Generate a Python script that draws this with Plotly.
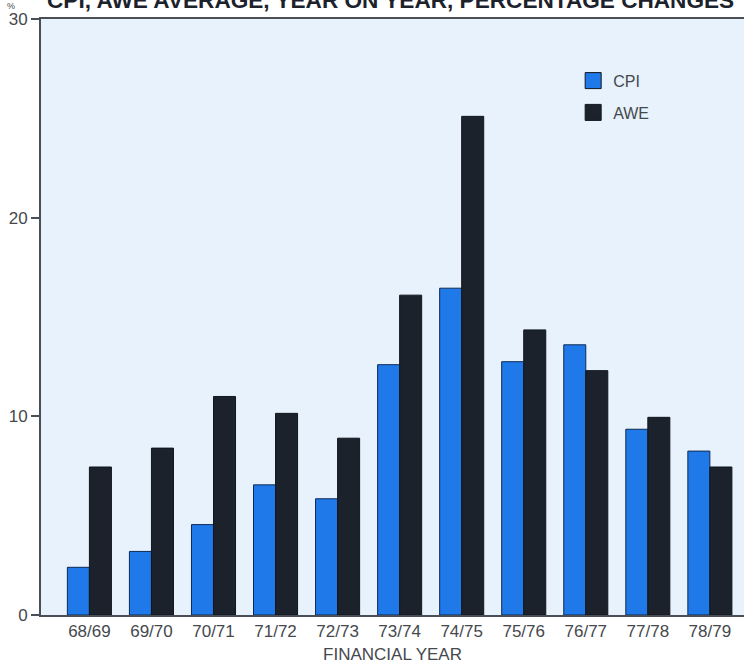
import plotly.graph_objects as go

# Financial years on the category axis
years = ["68/69", "69/70", "70/71", "71/72", "72/73", "73/74",
         "74/75", "75/76", "76/77", "77/78", "78/79"]

# Year-on-year percentage changes
cpi = [2.4, 3.2, 4.55, 6.55, 5.85, 12.6, 16.45, 12.75, 13.6, 9.35, 8.25]
awe = [7.45, 8.4, 11.0, 10.15, 8.9, 16.1, 25.1, 14.35, 12.3, 9.95, 7.45]

y_ticks = [0, 10, 20, 30]

CPI_COLOR = "#2079e8"
AWE_COLOR = "#1c222c"
AXIS_COLOR = "#4a4f57"
TEXT_COLOR = "#45484d"
FONT = "Liberation Sans, Arial, sans-serif"

fig = go.Figure()
fig.add_trace(go.Bar(
    x=years, y=cpi, name="CPI", showlegend=False,
    marker=dict(color=CPI_COLOR, line=dict(color="#0c2a55", width=1)),
))
fig.add_trace(go.Bar(
    x=years, y=awe, name="AWE", showlegend=False,
    marker=dict(color=AWE_COLOR, line=dict(color="#12161c", width=1)),
))

# Legend keys as square markers
for name, col, grp in [("CPI", CPI_COLOR, "a"), ("AWE", AWE_COLOR, "b")]:
    fig.add_trace(go.Scatter(
        x=[None], y=[None], mode="markers", name=name, legendgroup=grp,
        marker=dict(symbol="square", size=20, color=col,
                    line=dict(color="#12161c", width=1)),
    ))

fig.update_layout(
    width=744, height=666,
    margin=dict(l=41, r=0, t=19, b=51),
    paper_bgcolor="white",
    plot_bgcolor="#e7f2fc",
    barmode="group",
    bargap=0.29,
    bargroupgap=0,
    font=dict(family=FONT, color=TEXT_COLOR, size=17),
    legend=dict(
        x=0.757, y=0.925, xanchor="left", yanchor="top",
        bgcolor="rgba(0,0,0,0)", font=dict(size=16, color=TEXT_COLOR),
        traceorder="grouped", tracegroupgap=8, itemwidth=30,
    ),
    xaxis=dict(
        type="category", range=[-0.78, 10.55],
        showline=True, linecolor=AXIS_COLOR, linewidth=2, mirror=True,
        ticks="", showgrid=False,
        tickfont=dict(size=17, color=TEXT_COLOR),
        title=dict(text="FINANCIAL YEAR", standoff=8,
                   font=dict(size=17, color=TEXT_COLOR)),
    ),
    yaxis=dict(
        range=[0, 30], tickvals=y_ticks,
        showline=True, linecolor=AXIS_COLOR, linewidth=2,
        ticks="outside", ticklen=8, tickwidth=2, tickcolor=AXIS_COLOR,
        showgrid=False, zeroline=False,
        tickfont=dict(size=17, color=TEXT_COLOR),
    ),
    annotations=[
        dict(text="<b>CPI, AWE AVERAGE, YEAR ON YEAR, PERCENTAGE CHANGES</b>",
             xref="paper", yref="paper", x=0.005, y=1, xanchor="left",
             yanchor="bottom", yshift=4, showarrow=False,
             font=dict(size=22.6, color="#1c222c")),
        dict(text="%", xref="paper", yref="paper", x=-0.042, y=1,
             xanchor="center", yanchor="bottom", yshift=6, showarrow=False,
             font=dict(size=9, color=TEXT_COLOR)),
    ],
)

fig.write_html("out.html")
